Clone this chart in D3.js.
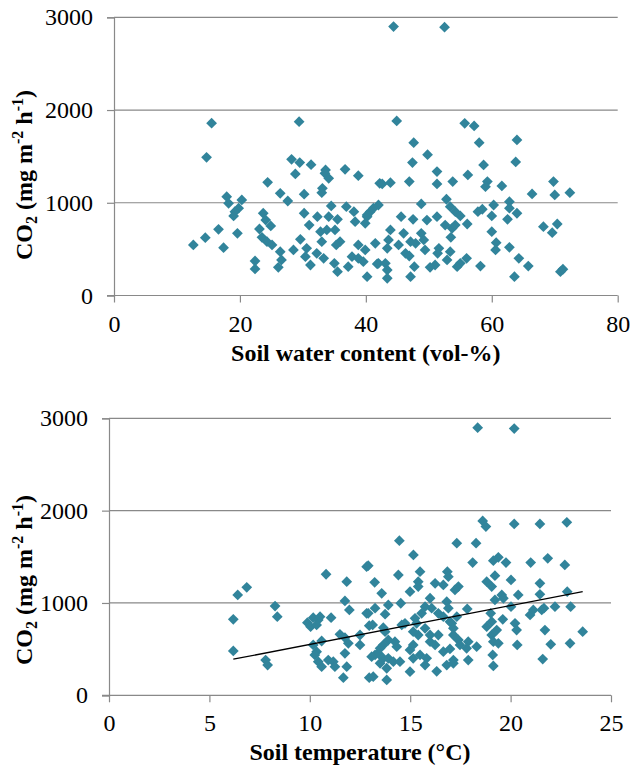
<!DOCTYPE html>
<html>
<head>
<meta charset="utf-8">
<script src="https://cdn.jsdelivr.net/npm/d3@7"></script>
<style>
  html, body { margin: 0; padding: 0; background: #fff; }
  svg { display: block; }
  svg text { font-family: "Liberation Serif", "Times New Roman", Times, "Tinos", "DejaVu Serif", "Noto Serif", serif !important; fill: #000; }
</style>
</head>
<body>
<svg id="chart" width="631" height="769"></svg>
<script>
// CO2 flux (mg m-2 h-1) versus soil water content (vol-%)
const waterContent = [
  15.5, 29.4, 14.7, 28.2, 29.5, 31.3, 33.6, 36.7, 44.4, 52.5, 44.9, 55.7, 57.2, 47.6, 58.0, 64.0,
  49.8, 47.4, 63.8, 58.7, 51.3, 28.8, 33.5, 34.1, 38.8, 24.4, 26.4, 30.2, 33.1, 33.0, 27.6, 17.9,
  18.2, 20.3, 19.8, 19.2, 19.0, 23.7, 24.1, 24.9, 23.1, 30.2, 32.3, 31.0, 34.5, 34.1, 35.5, 36.9,
  38.1, 38.3, 40.2, 40.7, 41.2, 42.0, 39.9, 42.2, 16.6, 19.6, 14.5, 12.6, 17.4, 23.5, 24.3, 25.1,
  26.4, 26.6, 26.1, 22.4, 22.4, 28.5, 29.6, 30.6, 30.4, 31.2, 32.2, 32.8, 33.0, 33.8, 35.1, 33.3,
  35.0, 35.5, 35.9, 35.3, 37.2, 37.8, 38.8, 38.8, 39.6, 39.9, 40.2, 41.5, 41.8, 56.2, 53.8, 51.3,
  46.9, 42.6, 43.9, 59.3, 59.0, 61.6, 66.4, 69.8, 70.0, 72.4, 52.8, 48.8, 62.8, 60.3, 62.8, 64.0,
  62.5, 60.0, 57.8, 58.5, 53.4, 54.2, 55.0, 56.1, 51.3, 49.7, 52.6, 53.7, 54.2, 53.5, 47.5, 45.6,
  40.2, 43.9, 46.0, 48.8, 43.6, 43.4, 45.2, 47.1, 47.9, 49.2, 49.4, 46.3, 46.9, 51.6, 53.4, 52.9,
  51.4, 56.0, 55.0, 54.5, 51.0, 50.2, 47.7, 47.1, 42.0, 43.1, 43.4, 43.4, 58.2, 60.7, 60.6, 62.8,
  64.3, 65.8, 63.6, 68.2, 69.6, 70.4, 70.9, 71.3, 60.0
];
const co2ByWater = [
  1858, 1875, 1490, 1469, 1433, 1411, 1354, 1361, 2900, 2893, 1882, 1857, 1828, 1648, 1648, 1677,
  1519, 1433, 1440, 1408, 1336, 1311, 1318, 1264, 1292, 1221, 1102, 1092, 1156, 1109, 1019, 1066,
  994, 1030, 941, 904, 858, 887, 814, 750, 717, 887, 850, 760, 966, 850, 822, 958,
  904, 796, 850, 904, 941, 976, 779, 1210, 714, 671, 624, 545, 516, 628, 580, 545,
  472, 383, 304, 372, 286, 491, 606, 509, 419, 329, 455, 688, 580, 707, 707, 401,
  347, 257, 580, 545, 311, 419, 545, 401, 365, 491, 203, 563, 340, 1300, 1228, 1203,
  1228, 1203, 1217, 1228, 1174, 1181, 1095, 1228, 1084, 1109, 1038, 987, 1012, 976, 941, 887,
  822, 858, 904, 930, 958, 904, 858, 771, 850, 814, 760, 725, 760, 628, 822, 850,
  868, 707, 671, 671, 599, 509, 545, 580, 563, 599, 491, 455, 426, 509, 472, 383,
  455, 401, 347, 311, 329, 304, 311, 203, 347, 347, 275, 186, 318, 570, 491, 520,
  401, 318, 203, 742, 677, 771, 257, 283, 688
];

// CO2 flux (mg m-2 h-1) versus soil temperature (°C)
const soilTemp = [
  6.86, 6.41, 6.19, 6.19, 8.27, 8.38, 7.80, 7.90, 10.81, 11.84, 12.83, 11.75, 11.97, 12.83, 12.96, 11.06,
  9.88, 10.17, 10.42, 10.51, 10.04, 10.34, 11.50, 11.75, 11.92, 10.59, 10.17, 10.34, 10.25, 10.42, 10.59, 10.92,
  11.17, 11.25, 11.75, 11.84, 11.67, 12.96, 18.36, 20.18, 18.61, 18.77, 20.18, 21.46, 22.80, 14.46,
  15.16, 17.32, 18.28, 12.91, 18.11, 19.14, 19.39, 19.77, 21.00, 21.85, 22.70, 14.41, 15.49, 13.23, 15.40, 15.40,
  16.24, 16.65, 16.85, 16.90, 17.40, 17.23, 14.99, 13.58, 18.81, 19.06, 19.22, 20.02, 21.46, 20.38, 21.46, 22.82,
  19.56, 19.64, 19.22, 14.53, 13.91, 13.25, 12.91, 13.75, 15.99, 16.07, 15.74, 16.82, 16.90, 15.57, 16.40, 16.65,
  17.32, 17.07, 17.84, 18.31, 19.01, 19.06, 18.81, 19.61, 20.02, 20.22, 20.30, 20.97, 21.13, 21.55, 21.66, 22.21,
  22.99, 21.71, 23.59, 20.33, 22.00, 22.96, 21.60, 19.11, 19.14, 19.06, 19.14, 19.39, 19.31, 13.13, 13.66, 14.58,
  14.74, 12.50, 15.24, 15.32, 15.40, 15.15, 15.74, 15.99, 16.40, 16.98, 17.15, 17.15, 17.40, 17.89, 17.81, 17.89,
  17.48, 16.65, 16.98, 17.15, 17.15, 16.82, 16.32, 15.74, 15.82, 15.49, 15.15, 14.99, 15.99, 16.24, 14.99, 15.15,
  14.24, 14.33, 13.91, 13.66, 13.50, 13.25, 13.41, 13.66, 13.91, 14.16, 13.50, 13.83, 13.16, 13.83, 14.49, 12.50,
  13.08, 13.75
];
const co2ByTemp = [
  1170, 1087, 823, 480, 967, 852, 382, 328, 1311, 1231, 1393, 1022, 924, 888, 754, 841,
  787, 841, 816, 852, 743, 762, 661, 624, 563, 588, 545, 473, 437, 364, 310, 382,
  364, 310, 455, 310, 191, 191, 2899, 2889, 1888, 1827, 1856, 1856, 1874, 1675,
  1520, 1647, 1647, 1404, 1437, 1458, 1495, 1437, 1437, 1484, 1412, 1303, 1339, 1224, 1231, 1177,
  1213, 1195, 1339, 1285, 1177, 1141, 1122, 1105, 1231, 1177, 1296, 1249, 1213, 1087, 1094, 1122,
  1087, 1051, 1033, 997, 978, 943, 888, 878, 1051, 943, 960, 1014, 943, 888, 888, 852,
  852, 780, 935, 527, 888, 797, 743, 823, 960, 780, 707, 870, 924, 924, 943, 960,
  960, 707, 689, 545, 552, 563, 393, 437, 318, 653, 581, 563, 707, 762, 732, 762,
  780, 653, 834, 780, 653, 689, 726, 653, 653, 797, 726, 653, 599, 581, 509, 382,
  545, 473, 502, 382, 347, 328, 260, 328, 401, 437, 401, 256, 581, 545, 491, 545,
  581, 527, 599, 545, 509, 437, 455, 401, 401, 364, 347, 293, 202, 166, 364, 545,
  418, 689
];

// Linear trend of CO2 flux on soil temperature
const trendSlope = 42.1;
const trendIntercept = 130;

const co2Ticks = [0, 1000, 2000, 3000];
const waterTicks = [0, 20, 40, 60, 80];
const tempTicks = [0, 5, 10, 15, 20, 25];

const svg = d3.select("#chart");
const markColor = "#31849B";
const gridColor = "#898989";

function drawPanel(cfg) {
  const { left, right, top, bottom, xDomain, xTicks, xs, ys, xTitle, titleCenterY } = cfg;
  const x = d3.scaleLinear().domain(xDomain).range([left, right]);
  const y = d3.scaleLinear().domain([0, 3000]).range([bottom, top]);
  const g = svg.append("g");

  // horizontal gridlines
  g.append("g").selectAll("line").data(co2Ticks.filter(d => d > 0)).join("line")
    .attr("x1", left).attr("x2", right)
    .attr("y1", d => y(d)).attr("y2", d => y(d))
    .attr("stroke", gridColor).attr("stroke-width", 1.2);

  // y axis
  const yAxis = g.append("g").attr("transform", `translate(${left},0)`)
    .call(d3.axisLeft(y).tickValues(co2Ticks).tickSize(7).tickPadding(14).tickFormat(d3.format("d")));
  yAxis.attr("font-family", null);
  yAxis.select(".domain").attr("stroke", gridColor).attr("stroke-width", 1.2);
  yAxis.selectAll(".tick line").attr("stroke", gridColor).attr("stroke-width", 1.2);
  yAxis.selectAll(".tick text").attr("font-size", 24).attr("fill", "#000");

  // x axis
  const xAxis = g.append("g").attr("transform", `translate(0,${bottom})`)
    .call(d3.axisBottom(x).tickValues(xTicks).tickSize(7).tickPadding(12).tickSizeOuter(0).tickFormat(d3.format("d")));
  xAxis.attr("font-family", null);
  xAxis.select(".domain").attr("stroke", gridColor).attr("stroke-width", 1.2)
    .attr("d", `M${left - 7},0H${right}`);
  xAxis.selectAll(".tick line").attr("stroke", gridColor).attr("stroke-width", 1.2);
  xAxis.selectAll(".tick text").attr("font-size", 24).attr("fill", "#000");

  // data markers: squares turned 45° (diamonds)
  const diamond = d3.symbol().type(d3.symbolSquare).size(58)();
  g.append("g").selectAll("path").data(xs.map((v, i) => [v, ys[i]])).join("path")
    .attr("d", diamond)
    .attr("transform", d => `translate(${x(d[0])},${y(d[1])}) rotate(45)`)
    .attr("fill", markColor);

  // x axis title
  g.append("text")
    .attr("x", (left + right) / 2).attr("y", bottom + 65)
    .attr("text-anchor", "middle").attr("font-size", 24).attr("font-weight", "bold")
    .text(xTitle);

  // y axis title: CO2 (mg m-2 h-1)
  const yt = g.append("text")
    .attr("transform", `translate(32,${titleCenterY}) rotate(-90)`)
    .attr("text-anchor", "middle").attr("font-size", 24).attr("font-weight", "bold");
  yt.append("tspan").text("CO");
  yt.append("tspan").attr("font-size", 16).attr("dy", 5).text("2");
  yt.append("tspan").attr("dy", -5).text(" (mg m");
  yt.append("tspan").attr("font-size", 16).attr("dy", -9).text("-2");
  yt.append("tspan").attr("dy", 9).text(" h");
  yt.append("tspan").attr("font-size", 16).attr("dy", -9).text("-1");
  yt.append("tspan").attr("dy", 9).text(")");

  return { g, x, y };
}

drawPanel({
  left: 114, right: 617.7, top: 17.3, bottom: 295.5,
  xDomain: [0, 80], xTicks: waterTicks,
  xs: waterContent, ys: co2ByWater,
  xTitle: "Soil water content (vol-%)", titleCenterY: 175
});

const bottomPanel = drawPanel({
  left: 109, right: 611, top: 418.3, bottom: 695.3,
  xDomain: [0, 25], xTicks: tempTicks,
  xs: soilTemp, ys: co2ByTemp,
  xTitle: "Soil temperature (°C)", titleCenterY: 580
});

// trend line across the observed temperature range
const [tMin, tMax] = d3.extent(soilTemp);
bottomPanel.g.append("line")
  .attr("x1", bottomPanel.x(tMin)).attr("y1", bottomPanel.y(trendSlope * tMin + trendIntercept))
  .attr("x2", bottomPanel.x(tMax)).attr("y2", bottomPanel.y(trendSlope * tMax + trendIntercept))
  .attr("stroke", "#000").attr("stroke-width", 1.3);
</script>
</body>
</html>
